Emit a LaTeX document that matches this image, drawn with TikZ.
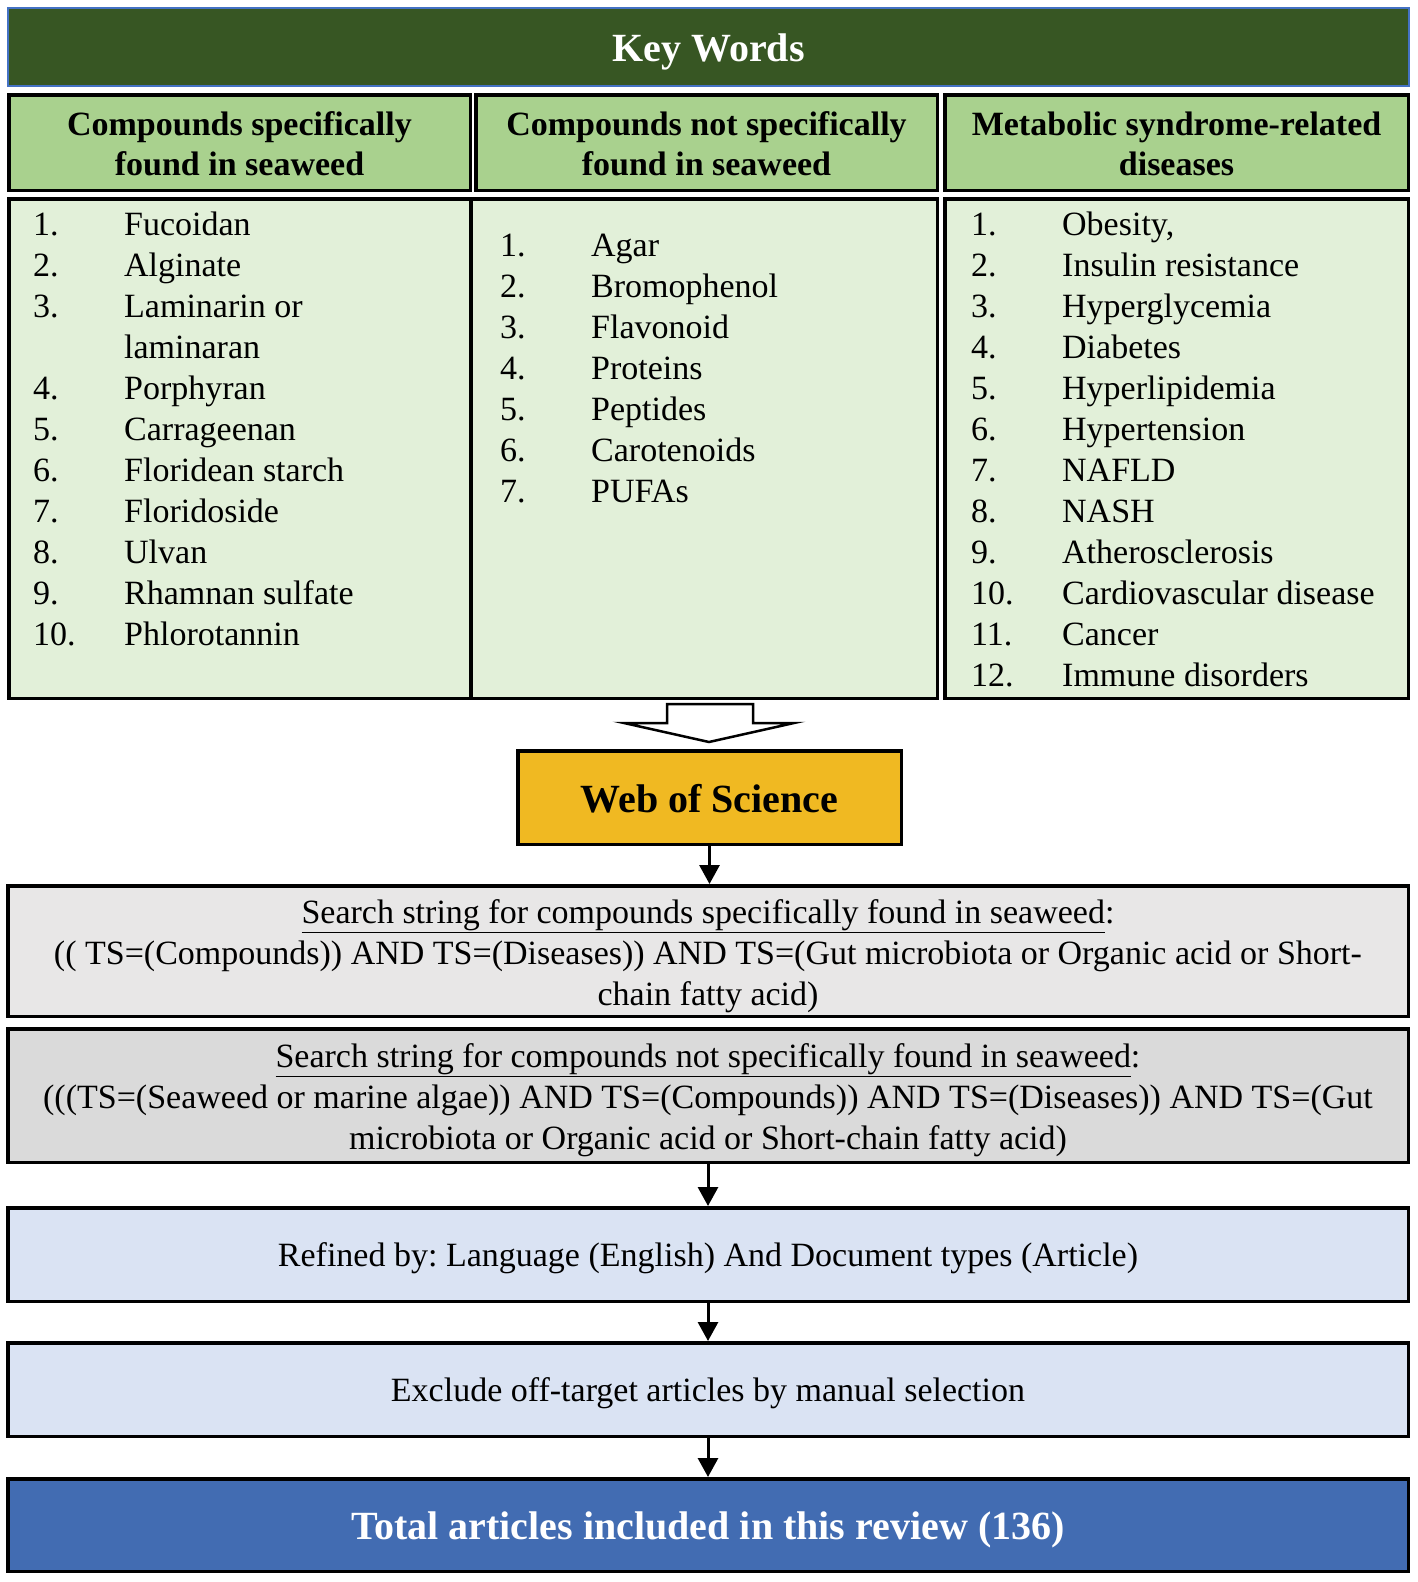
\documentclass[tikz,border=0pt]{standalone}
\usepackage{fontspec}
\setmainfont{Liberation Serif}
\frenchspacing
\usetikzlibrary{arrows.meta}
\definecolor{kwgreen}{HTML}{375623}
\definecolor{hdgreen}{HTML}{A9D18E}
\definecolor{lsgreen}{HTML}{E2F0D9}
\definecolor{wosgold}{HTML}{F0B922}
\definecolor{sgrayA}{HTML}{E8E7E7}
\definecolor{sgrayB}{HTML}{DADADA}
\definecolor{refblue}{HTML}{DAE3F3}
\definecolor{totblue}{HTML}{426CB2}
\definecolor{kwborder}{HTML}{4472C4}
\begin{document}
\begin{tikzpicture}[x=1pt,y=-1pt,
  bx/.style={draw=black, line width=3.5pt, inner sep=0pt, align=center, font=\fontsize{34}{41}\selectfont},
  big/.style={font=\fontsize{40}{44}\selectfont\bfseries, text height=29pt, text depth=0pt},
  one/.style={text height=24.4pt, text depth=0pt},
  hd/.style={bx, fill=hdgreen, font=\fontsize{34}{40}\selectfont\bfseries},
  ls/.style={bx, fill=lsgreen},
  txt/.style={inner sep=0pt, align=center, font=\fontsize{34}{41}\selectfont},
  lst/.style={inner sep=0pt, anchor=north west, font=\fontsize{34}{41}\selectfont},
  flow/.style={line width=3pt, -{Triangle[width=20pt,length=19pt]}}]
\useasboundingbox (0,0) rectangle (1418,1582);
\fill[white] (0,0) rectangle (1418,1582);

% Key words header
\node[draw=kwborder, line width=2pt, fill=kwgreen, inner sep=0pt,
      minimum width=1401pt, minimum height=78pt, text=white, big] (kw) at (708.5,47) {Key Words};

% column headers
\node[hd, minimum width=461.5pt, minimum height=95.5pt] (h1) at (239.5,142.5) {};
\node[hd, minimum width=461.5pt, minimum height=95.5pt] (h2) at (706.5,142.5) {};
\node[hd, minimum width=463.5pt, minimum height=95.5pt] (h3) at (1176.5,142.5) {};
\node[txt, font=\fontsize{34}{40}\selectfont\bfseries] (h1t) at ([yshift=-1.5pt]h1.center) {Compounds specifically\\found in seaweed};
\node[txt, font=\fontsize{34}{40}\selectfont\bfseries] (h2t) at ([yshift=-1.5pt]h2.center) {Compounds not specifically\\found in seaweed};
\node[txt, font=\fontsize{34}{40}\selectfont\bfseries] (h3t) at ([yshift=-1.5pt]h3.center) {Metabolic syndrome-related\\diseases};

% list boxes
\node[ls, minimum width=461.5pt, minimum height=499.5pt] (l1) at (239.5,448.5) {};
\node[ls, minimum width=466.5pt, minimum height=499.5pt] (l2) at (704,448.5) {};
\node[ls, minimum width=463.5pt, minimum height=499.5pt] (l3) at (1176.5,448.5) {};

\node[lst] (li1) at (33,206.8) {\begin{tabular}{@{}p{91pt}@{}l@{}}
1. & Fucoidan\\
2. & Alginate\\
3. & Laminarin or\\
   & laminaran\\
4. & Porphyran\\
5. & Carrageenan\\
6. & Floridean starch\\
7. & Floridoside\\
8. & Ulvan\\
9. & Rhamnan sulfate\\
10. & Phlorotannin
\end{tabular}};
\node[lst] (li2) at (500,227.8) {\begin{tabular}{@{}p{91pt}@{}l@{}}
1. & Agar\\
2. & Bromophenol\\
3. & Flavonoid\\
4. & Proteins\\
5. & Peptides\\
6. & Carotenoids\\
7. & PUFAs
\end{tabular}};
\node[lst] (li3) at (971,206.8) {\begin{tabular}{@{}p{91pt}@{}l@{}}
1. & Obesity,\\
2. & Insulin resistance\\
3. & Hyperglycemia\\
4. & Diabetes\\
5. & Hyperlipidemia\\
6. & Hypertension\\
7. & NAFLD\\
8. & NASH\\
9. & Atherosclerosis\\
10. & Cardiovascular disease\\
11. & Cancer\\
12. & Immune disorders
\end{tabular}};

% hollow block arrow
\draw[line width=2.5pt, fill=white, line join=miter]
  (667,704) -- (753,704) -- (753,723) -- (794,723) -- (709,742) -- (624,723) -- (667,723) -- cycle;

% Web of Science
\node[bx, fill=wosgold, minimum width=383.5pt, minimum height=93.5pt, big] (wos) at (709.5,797.5) {Web of Science};

% search strings
\node[bx, fill=sgrayA, minimum width=1400.5pt, minimum height=130.5pt] (s1) at (708,951) {};
\node[txt] (s1t) at ([yshift=-5pt]s1.center)
  {\underline{Search string for compounds specifically found in seaweed}:\\
   (( TS=(Compounds)) AND TS=(Diseases)) AND TS=(Gut microbiota or Organic acid or Short-\\
   chain fatty acid)};
\node[bx, fill=sgrayB, minimum width=1400.5pt, minimum height=133.5pt] (s2) at (708,1095.5) {};
\node[txt] (s2t) at ([yshift=-5pt]s2.center)
  {\underline{Search string for compounds not specifically found in seaweed}:\\
   (((TS=(Seaweed or marine algae)) AND TS=(Compounds)) AND TS=(Diseases)) AND TS=(Gut\\
   microbiota or Organic acid or Short-chain fatty acid)};

\node[bx, fill=refblue, minimum width=1400.5pt, minimum height=93.5pt, one] (rf) at (708,1254.5)
  {Refined by: Language (English) And Document types (Article)};
\node[bx, fill=refblue, minimum width=1400.5pt, minimum height=93.5pt, one] (ex) at (708,1389.5)
  {Exclude off-target articles by manual selection};
\node[bx, fill=totblue, minimum width=1400.5pt, minimum height=92.5pt, text=white, big] (tot) at (708,1525)
  {Total articles included in this review (136)};

% connectors
\draw[flow] (wos.south) -- (wos.south |- s1.north);
\draw[flow] (s2.south) -- (rf.north);
\draw[flow] (rf.south) -- (ex.north);
\draw[flow] (ex.south) -- (tot.north);
\end{tikzpicture}
\end{document}
